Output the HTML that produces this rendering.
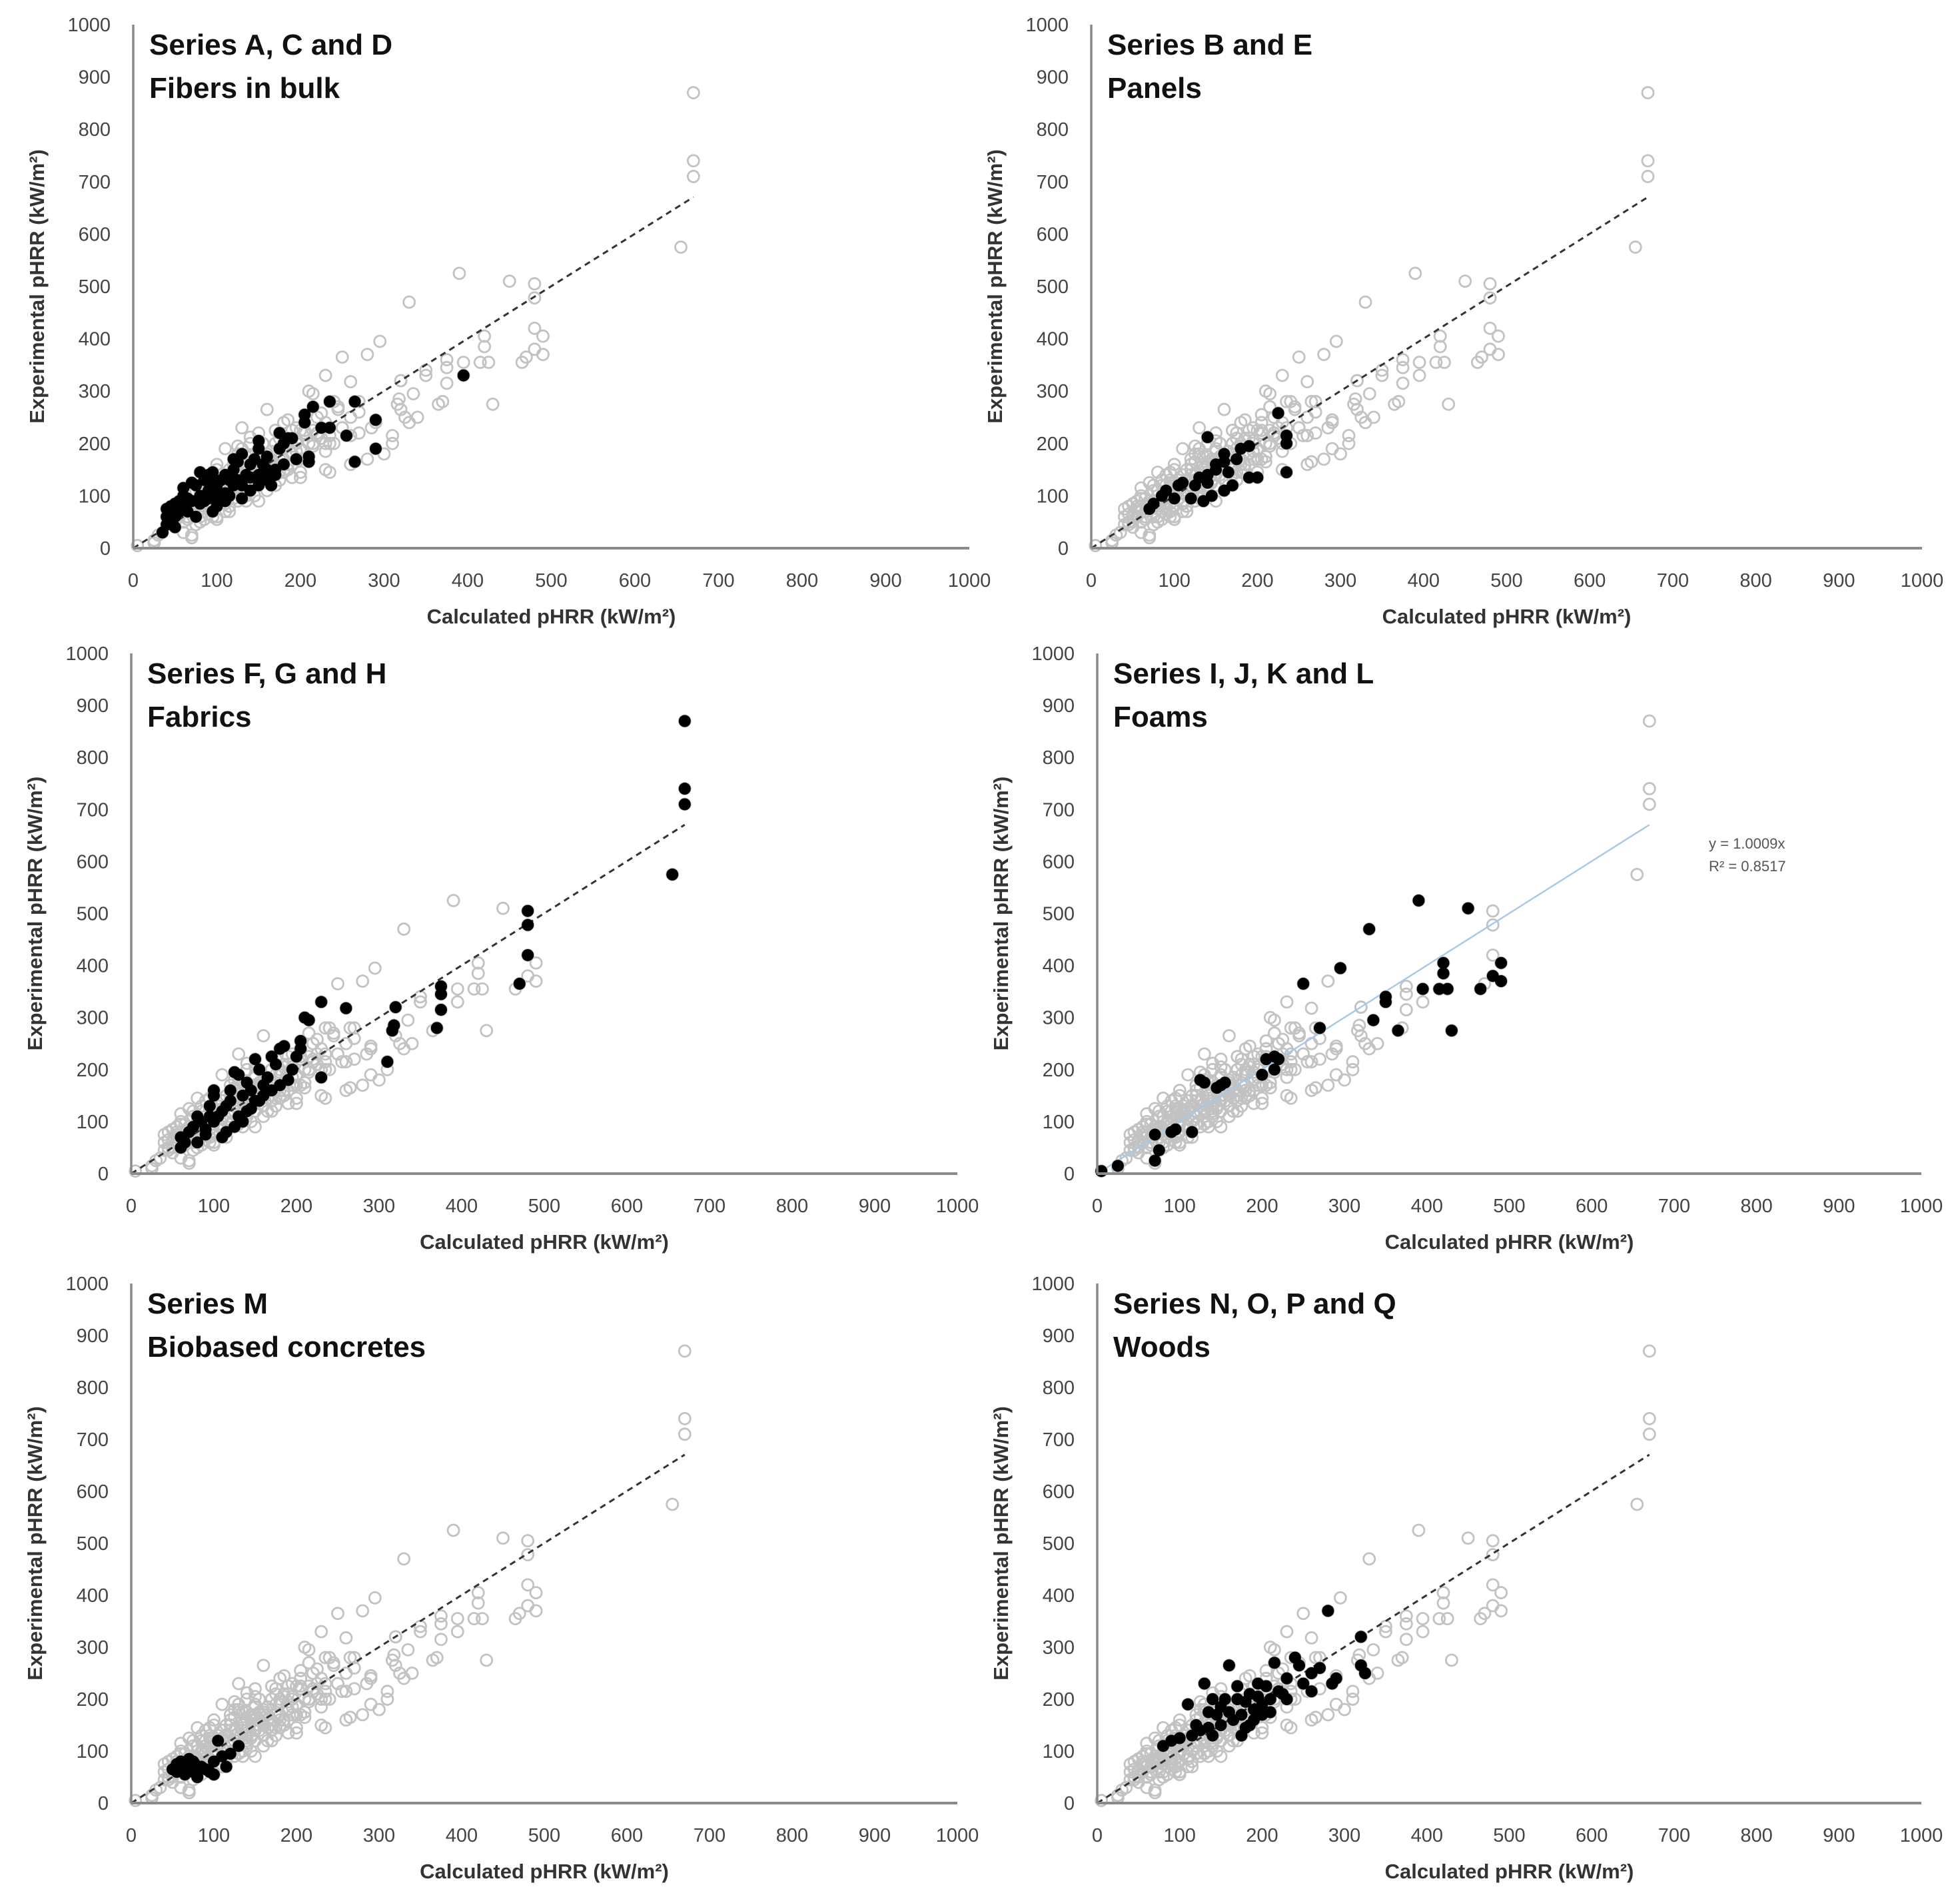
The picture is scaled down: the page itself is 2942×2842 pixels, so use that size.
<!DOCTYPE html>
<html><head><meta charset="utf-8">
<style>
html,body{margin:0;padding:0;background:#fff;}
svg{display:block;font-family:"Liberation Sans",sans-serif;}
</style></head>
<body>
<svg id="chart" width="2942" height="2842" viewBox="0 0 2942 2842" xmlns="http://www.w3.org/2000/svg"></svg>
<script>
// ---- data (calculated pHRR, experimental pHRR) ----
const xTicks = [0,100,200,300,400,500,600,700,800,900,1000];
const yTicks = [0,100,200,300,400,500,600,700,800,900,1000];
const fitSlope = 1.0009;
const fitMax = 670;
const titles1 = ["Series A, C and D","Series B and E","Series F, G and H","Series I, J, K and L","Series M","Series N, O, P and Q"];
const titles2 = ["Fibers in bulk","Panels","Fabrics","Foams","Biobased concretes","Woods"];
const fibersX = [395,235,265,215,290,290,265,255,235,225,205,205,210,210,195,190,185,175,175,170,150,150,155,145,160,140,130,125,120,115,110,130,110,100,95,90,85,80,75,70,60,65,55,50,45,40,40,35,40,45,50,55,60,70,80,90,100,100,95,85,75,65,120,125,135,140,150,160,165,170,180,115,105,90,60,120,140,130,110,100,80,45,50,95,105,150,160,180];
const fibersY = [330,280,280,270,245,190,165,215,230,230,255,240,175,165,170,210,210,220,190,150,190,205,160,170,130,135,180,165,150,130,140,95,105,120,145,140,130,145,120,125,115,95,90,85,80,75,60,30,45,50,60,70,80,90,100,110,100,80,70,90,60,70,120,130,140,110,140,150,120,140,200,100,95,95,100,170,160,120,90,110,85,65,40,125,130,120,175,160];
const panelsX = [225,140,235,235,190,180,175,160,160,150,150,140,140,130,125,145,135,160,170,190,200,235,120,110,100,90,85,75,70,105,165];
const panelsY = [258,212,215,200,195,190,170,180,165,150,160,140,125,135,120,100,90,110,120,135,135,145,95,125,95,110,100,85,75,120,145];
const fabricsX = [670,670,670,655,480,480,480,470,375,375,375,370,320,318,316,310,260,230,230,215,210,205,205,200,195,185,180,175,170,165,160,155,150,145,140,135,130,125,120,120,115,110,105,100,100,95,90,85,80,75,70,65,60,60,80,90,110,130,140,150,160,170,180,190,100,115,125,135,145,155,95];
const fabricsY = [870,740,710,575,505,478,420,365,360,345,315,280,320,285,275,215,318,330,185,295,300,255,240,225,200,245,240,210,225,185,170,200,220,160,175,150,190,195,160,140,130,120,110,150,100,130,85,100,110,90,80,60,50,70,60,75,70,110,120,140,150,160,170,180,160,80,90,100,125,140,110];
const foamsX = [5,25,70,75,70,90,95,115,125,130,145,150,155,200,205,215,215,220,270,250,295,330,335,350,350,365,390,395,415,420,420,425,430,450,465,480,490,490];
const foamsY = [5,15,25,45,75,80,85,80,180,175,165,170,175,190,220,200,225,220,280,365,395,470,295,340,330,275,525,355,355,405,385,355,275,510,355,380,405,370];
const concretesX = [50,55,60,65,70,75,75,80,85,90,95,100,100,105,110,115,120,130,55,65];
const concretesY = [65,75,80,70,85,60,80,50,70,65,60,55,80,120,90,70,95,110,60,55];
const woodsX = [280,320,325,320,290,285,270,260,245,240,230,225,220,215,210,205,200,200,195,190,185,180,180,175,170,170,165,160,160,155,150,145,140,140,135,130,125,120,115,110,100,90,80,135,150,190,210,230,250,260,195,175,185];
const woodsY = [370,320,250,265,240,230,260,215,265,280,200,210,215,270,200,225,190,170,205,180,210,145,195,170,225,200,160,175,265,200,150,170,200,130,175,230,140,150,130,190,125,120,110,145,185,160,175,240,230,250,230,130,150];
const extraGreyX = [25,30,45,60,70,85,100,150,200,230,260,280,300,310,330,340,50,55,65,75,80,90,105,110,120,130,140,155,165,175,185,195,205,215,225,240,250,270,60,85,95,115,135,145,170,190,220,245];
const extraGreyY = [10,25,45,30,20,55,60,90,145,150,160,170,180,200,240,250,50,80,60,110,75,100,130,85,110,125,115,150,170,145,160,185,170,195,210,200,230,220,95,120,70,150,160,130,200,225,250,270];

const seriesX = [fibersX,panelsX,fabricsX,foamsX,concretesX,woodsX];
const seriesY = [fibersY,panelsY,fabricsY,foamsY,concretesY,woodsY];

// panel geometry (layout, not data)
const panels = [
  {x0:200,y0:823,w:1255,h:786},
  {x0:1638,y0:823,w:1247,h:786},
  {x0:197,y0:1762,w:1240,h:781},
  {x0:1647,y0:1762,w:1237,h:781},
  {x0:197,y0:2707,w:1240,h:780},
  {x0:1647,y0:2707,w:1237,h:780}
];
const NS = "http://www.w3.org/2000/svg";
const svg = document.getElementById('chart');
function mk(tag, attrs, parent){
  const e = document.createElementNS(NS, tag);
  for (const k in attrs) e.setAttribute(k, attrs[k]);
  parent.appendChild(e);
  return e;
}
let gx = [], gy = [];
seriesX.forEach((a,i)=>{ gx = gx.concat(a); gy = gy.concat(seriesY[i]); });
gx = gx.concat(extraGreyX); gy = gy.concat(extraGreyY);

panels.forEach((p, i) => {
  const sx = v => p.x0 + v / 1000 * p.w;
  const sy = v => p.y0 - v / 1000 * p.h;
  const g = mk('g', {}, svg);
  
  
  const gg = mk('g', {fill:'none', stroke:'#c2c2c2', 'stroke-width':2.8}, g);
  
  
  for (let k=0;k<gx.length;k++){
    const c = mk('circle', {cx:sx(gx[k]), cy:sy(gy[k]), r:8.5}, gg);
    
    
  }
  if (i === 3) {
    const l = mk('line', {x1:sx(0), y1:sy(0), x2:sx(fitMax), y2:sy(fitMax*fitSlope), stroke:'#a9c8e8', 'stroke-width':2.5}, g);
    
    
    const t1 = mk('text', {x:2565, y:1274, 'font-size':22, fill:'#555'}, g);
    t1.textContent = 'y = 1.0009x';
    
    
    const t2 = mk('text', {x:2565, y:1308, 'font-size':22, fill:'#555'}, g);
    t2.textContent = 'R² = 0.8517';
    
    
  } else {
    const l = mk('line', {x1:sx(0), y1:sy(0), x2:sx(fitMax), y2:sy(fitMax*fitSlope), stroke:'#333', 'stroke-width':3, 'stroke-dasharray':'9 7'}, g);
    
    
  }
  const bg = mk('g', {fill:'#000'}, g);
  
  
  seriesX[i].forEach((xv, k) => {
    const c = mk('circle', {cx:sx(xv), cy:sy(seriesY[i][k]), r:9}, bg);
    
    
  });
  const ya = mk('line', {x1:p.x0, y1:p.y0, x2:p.x0, y2:sy(1000), stroke:'#8a8a8a', 'stroke-width':3.5}, g);
  
  
  const xa = mk('line', {x1:p.x0, y1:p.y0, x2:sx(1000), y2:p.y0, stroke:'#8a8a8a', 'stroke-width':4}, g);
  
  
  xTicks.forEach(v => {
    const t = mk('text', {x:sx(v), y:p.y0+58, 'font-size':29, fill:'#444', 'text-anchor':'middle'}, g);
    t.textContent = v;
    
    
  });
  yTicks.forEach(v => {
    const t = mk('text', {x:p.x0-34, y:sy(v)+10, 'font-size':29, fill:'#444', 'text-anchor':'end'}, g);
    t.textContent = v;
    
    
  });
  const xt = mk('text', {x:p.x0 + p.w*0.5, y:p.y0+113, 'font-size':31, 'font-weight':'bold', fill:'#333', 'text-anchor':'middle'}, g);
  xt.textContent = 'Calculated pHRR (kW/m²)';
  
  
  const yc = p.y0 - p.h*0.5;
  const yt = mk('text', {x:0, y:0, 'font-size':31, 'font-weight':'bold', fill:'#333', 'text-anchor':'middle', transform:'translate(' + (p.x0-134) + ',' + yc + ') rotate(-90)'}, g);
  yt.textContent = 'Experimental pHRR (kW/m²)';
  
  
  const ta = mk('text', {x:p.x0+24, y:sy(1000)+45, 'font-size':44, 'font-weight':'bold', fill:'#111'}, g);
  ta.textContent = titles1[i];
  
  
  const tb = mk('text', {x:p.x0+24, y:sy(1000)+110, 'font-size':44, 'font-weight':'bold', fill:'#111'}, g);
  tb.textContent = titles2[i];
  
  
});
</script>
</body></html>
